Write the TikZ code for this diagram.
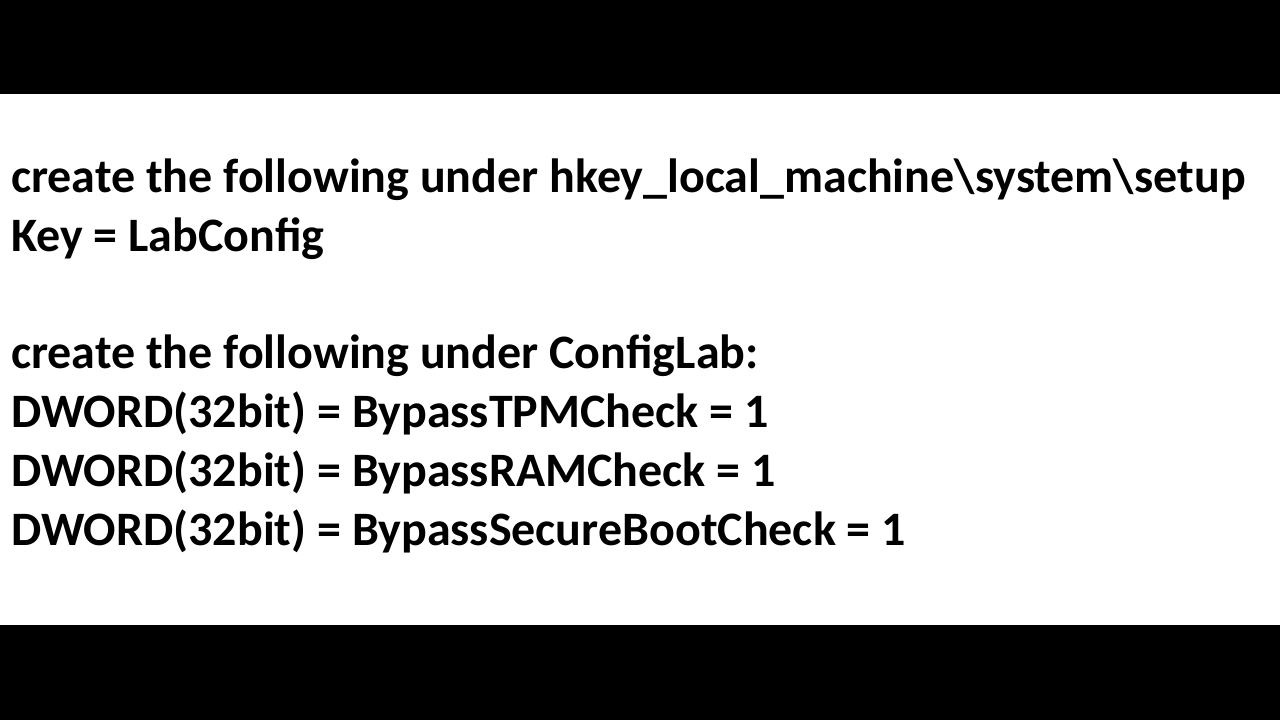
\documentclass[tikz,border=0pt]{standalone}
\usepackage{fontspec}
\setmainfont{Carlito}
\tikzset{line/.style={anchor=base west,inner sep=0pt,font=\fontsize{48}{56}\selectfont\bfseries}}
\begin{document}
\begin{tikzpicture}[x=1pt,y=1pt]
  \useasboundingbox (0,0) rectangle (1280,-720);
  \fill[black] (0,0) rectangle (1280,-94);
  \fill[black] (0,-625) rectangle (1280,-720);
  % text lines
  \foreach \n/\y/\t in {1/192/{create the following under hkey\_local\_machine\textbackslash system\textbackslash setup},
    2/251/{Key = LabConfig},
    3/368/{create the following under ConfigLab:},
    4/427/{DWORD(32bit) = BypassTPMCheck = 1},
    5/486/{DWORD(32bit) = BypassRAMCheck = 1},
    6/545/{DWORD(32bit) = BypassSecureBootCheck = 1}} {
    \node[line] (l\n) at (11,-\y) {\t};
  }
\end{tikzpicture}
\end{document}
